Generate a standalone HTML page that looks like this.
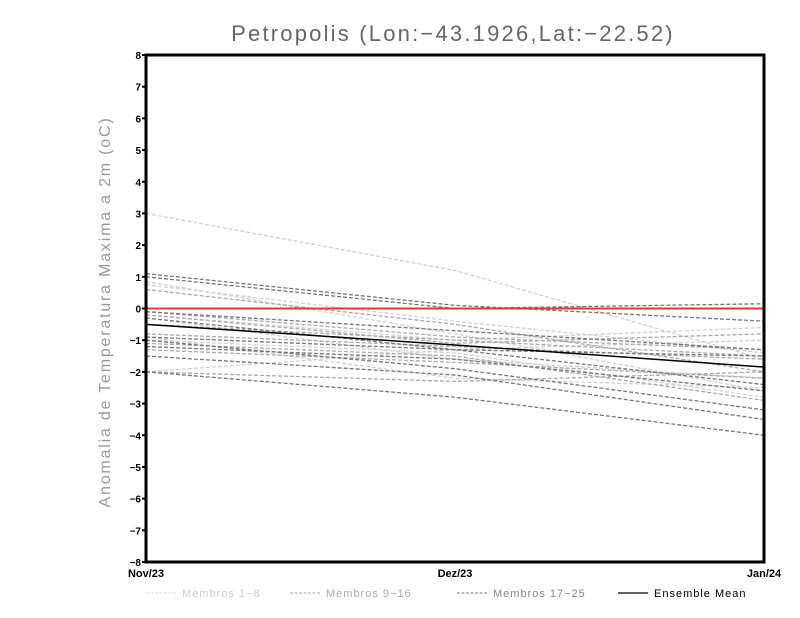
<!DOCTYPE html>
<html><head><meta charset="utf-8"><style>
body{margin:0;background:#fff;}
svg{display:block;font-family:"Liberation Sans",sans-serif;}
</style></head><body>
<svg id="chart" width="800" height="618">
<text x="453" y="41" text-anchor="middle" font-size="22" fill="#666" letter-spacing="2.2">Petropolis (Lon:−43.1926,Lat:−22.52)</text>
<text transform="translate(110,312) rotate(-90)" text-anchor="middle" font-size="16" fill="#999" letter-spacing="1.8">Anomalia de Temperatura Maxima a 2m (oC)</text>
<g id="marks"></g>
<rect x="146" y="55" width="618" height="507" fill="none" stroke="#000" stroke-width="3"/>
<g id="axes"></g>
<g font-size="11" letter-spacing="1">
<line x1="146" y1="593" x2="176" y2="593" stroke="#ddd" stroke-dasharray="3,1.5"/>
<text x="182" y="597" fill="#ccc">Membros 1−8</text>
<line x1="290" y1="593" x2="320" y2="593" stroke="#aaa" stroke-dasharray="3,1.5"/>
<text x="326" y="597" fill="#aaa">Membros 9−16</text>
<line x1="457" y1="593" x2="487" y2="593" stroke="#777" stroke-dasharray="3,1.5"/>
<text x="493" y="597" fill="#888">Membros 17−25</text>
<line x1="618" y1="593" x2="648" y2="593" stroke="#000" stroke-width="1.3"/>
<text x="654" y="597" fill="#000">Ensemble Mean</text>
</g>
</svg>
<script>
const categories = ["Nov/23","Dez/23","Jan/24"];
const yTicks = [-8,-7,-6,-5,-4,-3,-2,-1,0,1,2,3,4,5,6,7,8];
const members1to8 = [
 [3.0,1.2,-1.6],[0.85,-0.8,-2.6],[0.75,-0.4,-1.4],[-0.2,-1.0,-0.6],
 [-2.0,-1.3,-1.0],[-1.0,-1.4,-2.8],[-0.3,-1.6,-2.2],[-0.9,-2.2,-2.5]];
const members9to16 = [
 [0.6,-0.5,-2.0],[-0.1,-0.9,-1.3],[-0.8,-1.2,-1.6],[-1.1,-1.5,-2.9],
 [-0.2,-1.1,-0.8],[-1.3,-1.7,-2.2],[-2.0,-2.3,-2.0],[-0.5,-1.0,-1.5]];
const members17to25 = [
 [1.1,0.1,-0.4],[1.0,0.0,0.15],[-0.1,-0.7,-1.3],[-0.9,-1.3,-1.5],
 [-1.0,-1.9,-3.2],[-1.5,-2.1,-3.5],[-2.0,-2.8,-4.0],[-0.3,-1.3,-2.4],[-1.2,-1.6,-2.6]];
const ensembleMean = [-0.5,-1.15,-1.85];
const zeroLine = [0,0,0];

const NS="http://www.w3.org/2000/svg";
const X0=146,X1=764,Y0=562,Y1=55;
const xs=i=>X0+(X1-X0)*i/(categories.length-1);
const ys=v=>Y0-(v-(-8))*(Y0-Y1)/16;
const marks=document.getElementById('marks');
const axes=document.getElementById('axes');
function poly(vals,stroke,w,dash,name){
 const p=document.createElementNS(NS,'polyline');
 p.setAttribute('points',vals.map((v,i)=>xs(i)+','+ys(v)).join(' '));
 p.setAttribute('fill','none');p.setAttribute('stroke',stroke);p.setAttribute('stroke-width',w);
 if(dash)p.setAttribute('stroke-dasharray',dash);
 
 
 marks.appendChild(p);
}
members1to8.forEach((m,i)=>poly(m,'#d2d2d2',1.3,'4,2','member-line-'+(i+1)));
members9to16.forEach((m,i)=>poly(m,'#aaaaaa',1.3,'4,2','member-line-'+(i+9)));
members17to25.forEach((m,i)=>poly(m,'#777777',1.3,'4,2','member-line-'+(i+17)));
poly(zeroLine,'#ee3333',2,null,'zero-line');
poly(ensembleMean,'#000',1.5,null,'ensemble-mean-line');
yTicks.forEach(v=>{
 const l=document.createElementNS(NS,'line');
 l.setAttribute('x1',X0-4);l.setAttribute('x2',X0);l.setAttribute('y1',ys(v));l.setAttribute('y2',ys(v));
 l.setAttribute('stroke','#000');l.setAttribute('stroke-width',2);
 
 
 axes.appendChild(l);
 const t=document.createElementNS(NS,'text');
 t.setAttribute('x',X0-5);t.setAttribute('y',ys(v)+4);t.setAttribute('text-anchor','end');
 t.setAttribute('font-size','10');t.setAttribute('font-weight','bold');
 t.textContent=(v<0?'−'+(-v):v);
 
 
 axes.appendChild(t);
});
categories.forEach((c,i)=>{
 const t=document.createElementNS(NS,'text');
 t.setAttribute('x',xs(i));t.setAttribute('y',577);t.setAttribute('text-anchor','middle');
 t.setAttribute('font-size','11');t.setAttribute('font-weight','bold');
 t.textContent=c;
 
 
 axes.appendChild(t);
});
</script>
</body></html>
